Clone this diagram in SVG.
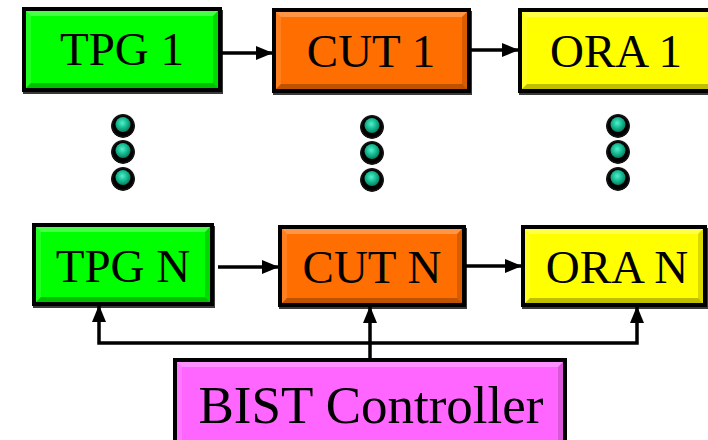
<svg xmlns="http://www.w3.org/2000/svg" width="708" height="440" viewBox="0 0 708 440">
  <style>
    .frame { stroke: #000; stroke-width: 4; }
    .shadow { fill: #3a3a3a; }
    .hi { fill: #fff; fill-opacity: 0.28; }
    .hi2 { fill: #fff; fill-opacity: 0.12; }
    .lo { fill: #000; fill-opacity: 0.25; }
    .lo2 { fill: #000; fill-opacity: 0.15; }
    .label { font-family: "Liberation Serif", "Times New Roman", serif; font-size: 47px; fill: #000; text-anchor: middle; }
    .big { font-size: 53px; }
    .wire { stroke: #000; stroke-width: 3.5; fill: none; }
    .tpg { fill: #00ff00; }
    .cut { fill: #ff6e00; }
    .ora { fill: #ffff00; }
    .ctl { fill: #ff66ff; }
  </style>
  <defs>
    <marker id="arrow" markerUnits="userSpaceOnUse" markerWidth="17" markerHeight="14" refX="16" refY="7" orient="auto">
      <path d="M0,0 L17,7 L0,14 Z" fill="#000"/>
    </marker>
    <radialGradient id="bead" cx="0.45" cy="0.4" r="0.6">
      <stop offset="0" stop-color="#55eecb"/>
      <stop offset="0.5" stop-color="#18c096"/>
      <stop offset="1" stop-color="#0a7c60"/>
    </radialGradient>
    <radialGradient id="halo" cx="0.5" cy="0.52" r="0.5">
      <stop offset="0.75" stop-color="#000"/>
      <stop offset="0.92" stop-color="#1a1a1a"/>
      <stop offset="1" stop-color="#666" stop-opacity="0"/>
    </radialGradient>
    <g id="dot">
      <circle r="12.5" cy="0.5" fill="url(#halo)"/>
      <circle r="7.5" cy="-0.5" fill="url(#bead)"/>
    </g>
  </defs>

  <!-- Test pattern generator, first chain -->
  <g id="tpg1">
    <rect class="shadow" x="23" y="10" width="200" height="84"/>
    <rect class="tpg frame" x="24" y="9" width="196" height="81"/>
    <polygon class="hi" points="26,11 218,11 213,16 31,16"/>
    <polygon class="lo" points="26,88 218,88 213,83 31,83"/>
    <polygon class="hi2" points="26,11 31,16 31,83 26,88"/>
    <polygon class="lo2" points="218,11 213,16 213,83 218,88"/>
    <text class="label" x="122" y="65">TPG 1</text>
  </g>

  <!-- Circuit under test, first chain -->
  <g id="cut1">
    <rect class="shadow" x="273" y="11" width="199" height="84"/>
    <rect class="cut frame" x="274" y="10" width="195" height="81"/>
    <polygon class="hi" points="276,12 467,12 462,17 281,17"/>
    <polygon class="lo" points="276,89 467,89 462,84 281,84"/>
    <polygon class="hi2" points="276,12 281,17 281,84 276,89"/>
    <polygon class="lo2" points="467,12 462,17 462,84 467,89"/>
    <text class="label" x="371" y="67">CUT 1</text>
  </g>

  <!-- Output response analyser, first chain -->
  <g id="ora1">
    <rect class="shadow" x="519" y="11" width="199" height="84"/>
    <rect class="ora frame" x="520" y="10" width="195" height="81"/>
    <polygon class="hi" points="522,12 713,12 708,17 527,17"/>
    <polygon class="lo" points="522,89 713,89 708,84 527,84"/>
    <polygon class="hi2" points="522,12 527,17 527,84 522,89"/>
    <polygon class="lo2" points="713,12 708,17 708,84 713,89"/>
    <text class="label" x="616" y="67">ORA 1</text>
  </g>

  <!-- Test pattern generator, last chain -->
  <g id="tpgN">
    <rect class="shadow" x="33" y="226" width="182" height="82"/>
    <rect class="tpg frame" x="34" y="225" width="178" height="79"/>
    <polygon class="hi" points="36,227 210,227 205,232 41,232"/>
    <polygon class="lo" points="36,302 210,302 205,297 41,297"/>
    <polygon class="hi2" points="36,227 41,232 41,297 36,302"/>
    <polygon class="lo2" points="210,227 205,232 205,297 210,302"/>
    <text class="label" x="123" y="282">TPG N</text>
  </g>

  <!-- Circuit under test, last chain -->
  <g id="cutN">
    <rect class="shadow" x="279" y="228" width="188" height="81"/>
    <rect class="cut frame" x="280" y="227" width="184" height="78"/>
    <polygon class="hi" points="282,229 462,229 457,234 287,234"/>
    <polygon class="lo" points="282,303 462,303 457,298 287,298"/>
    <polygon class="hi2" points="282,229 287,234 287,298 282,303"/>
    <polygon class="lo2" points="462,229 457,234 457,298 462,303"/>
    <text class="label" x="372" y="283">CUT N</text>
  </g>

  <!-- Output response analyser, last chain -->
  <g id="oraN">
    <rect class="shadow" x="522" y="228" width="186" height="81"/>
    <rect class="ora frame" x="523" y="227" width="182" height="78"/>
    <polygon class="hi" points="525,229 703,229 698,234 530,234"/>
    <polygon class="lo" points="525,303 703,303 698,298 530,298"/>
    <polygon class="hi2" points="525,229 530,234 530,298 525,303"/>
    <polygon class="lo2" points="703,229 698,234 698,298 703,303"/>
    <text class="label" x="617" y="283">ORA N</text>
  </g>

  <!-- Controller driving every chain -->
  <g id="controller">
    <rect class="ctl frame" x="175" y="360" width="390" height="100"/>
    <polygon class="hi" points="177,362 563,362 558,367 182,367"/>
    <polygon class="hi2" points="177,362 182,367 182,458 177,458"/>
    <polygon class="lo2" points="563,362 558,367 558,458 563,458"/>
    <text class="label big" x="371" y="423">BIST Controller</text>
  </g>

  <!-- Ellipsis beads between the first and last chains -->
  <g id="ellipsis">
    <use href="#dot" x="123" y="125"/>
    <use href="#dot" x="123" y="151"/>
    <use href="#dot" x="123" y="178"/>
    <use href="#dot" x="372" y="126"/>
    <use href="#dot" x="372" y="152"/>
    <use href="#dot" x="372" y="179"/>
    <use href="#dot" x="618" y="125"/>
    <use href="#dot" x="618" y="151"/>
    <use href="#dot" x="618" y="178"/>
  </g>

  <!-- Connectors -->
  <g id="connectors">
    <line class="wire" x1="222" y1="53" x2="272" y2="53" marker-end="url(#arrow)"/>
    <line class="wire" x1="471" y1="50" x2="518" y2="50" marker-end="url(#arrow)"/>
    <line class="wire" x1="218" y1="267" x2="278" y2="267" marker-end="url(#arrow)"/>
    <line class="wire" x1="464" y1="266" x2="521" y2="266" marker-end="url(#arrow)"/>
    <polyline class="wire" points="370,358 370,307" marker-end="url(#arrow)"/>
    <polyline class="wire" points="370,343 99,343 99,306" marker-end="url(#arrow)"/>
    <polyline class="wire" points="370,343 637,343 637,307" marker-end="url(#arrow)"/>
  </g>
</svg>
